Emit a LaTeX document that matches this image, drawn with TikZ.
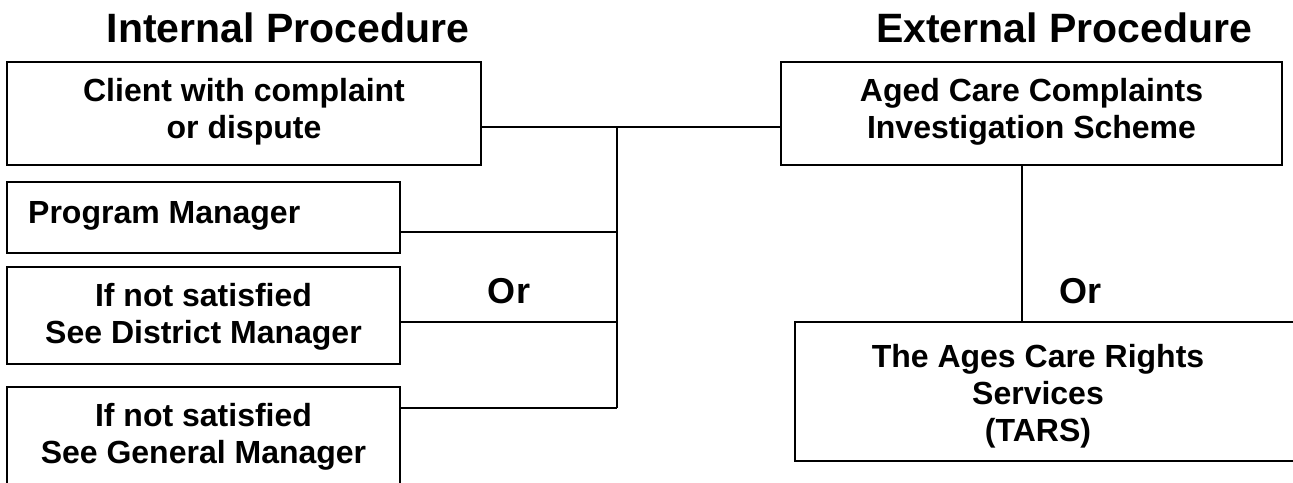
\documentclass[tikz,border=0pt]{standalone}
\usepackage{fontspec}
\setmainfont{Liberation Sans}
\begin{document}
\begin{tikzpicture}[x=1pt,y=-1pt,
  box/.style={draw=black,line width=1.8pt,fill=white,inner sep=0pt},
  btext/.style={font=\fontsize{32}{37}\selectfont\bfseries,align=center,inner sep=0pt},
  title/.style={font=\fontsize{41}{48}\selectfont\bfseries,inner sep=0pt,anchor=base},
  orlabel/.style={font=\fontsize{36}{40}\selectfont\bfseries,inner sep=0pt,anchor=base},
  conn/.style={draw=black,line width=1.8pt}]
\useasboundingbox (0,0) rectangle (1293,482);
\fill[white] (0,0) rectangle (1293,482);
% titles
\node[title] (tint) at (288,42) {Internal Procedure};
\node[title] (text) at (1064,42) {External Procedure};
% boxes
\node[box,minimum width=474pt,minimum height=103pt] (client) at (244,113.5) {};
\node[btext] (clientt) at (244,112) {Client with complaint\\or dispute};
\node[box,minimum width=393pt,minimum height=71pt] (pm) at (203.5,217.5) {};
\node[btext,anchor=west] (pmt) at (28,216) {Program Manager};
\node[box,minimum width=393pt,minimum height=97pt] (dm) at (203.5,315.5) {};
\node[btext] (dmt) at (203.5,317) {If not satisfied\\See District Manager};
\node[box,minimum width=393pt,minimum height=100pt] (gm) at (203.5,437) {};
\node[btext] (gmt) at (203.5,437) {If not satisfied\\See General Manager};
\node[box,minimum width=501pt,minimum height=103pt] (aged) at (1031.5,113.5) {};
\node[btext] (agedt) at (1031.5,112) {Aged Care Complaints\\Investigation Scheme};
\node[box,minimum width=503pt,minimum height=139pt] (tars) at (1046.5,391.5) {};
\node[btext] (tarst) at (1038,396) {The Ages Care Rights\\Services\\(TARS)};
% Or labels
\node[orlabel] (or1) at (509,303) {Or};
\node[orlabel] (or2) at (1080,303) {Or};
% connector junctions
\coordinate (j) at (617,127);
\coordinate (b1) at (617,232);
\coordinate (b2) at (617,322);
\coordinate (b3) at (617,408);
\coordinate (v) at (1022,0);
\draw[conn] (j -| client.east) -- (j -| aged.west);
\draw[conn] (j) -- (b3);
\draw[conn] (b1 -| pm.east) -- (b1);
\draw[conn] (b2 -| dm.east) -- (b2);
\draw[conn] (b3 -| gm.east) -- (b3);
\draw[conn] (aged.south -| v) -- (tars.north -| v);
\end{tikzpicture}
\end{document}
